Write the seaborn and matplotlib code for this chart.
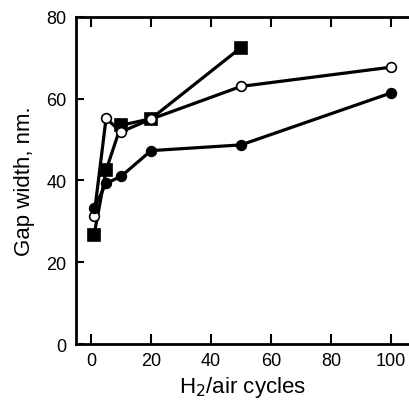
import matplotlib
matplotlib.use("Agg")
import matplotlib.pyplot as plt
import seaborn as sns
import pandas as pd

sns.set_style("ticks")
plt.rcParams['font.family'] = ['Liberation Sans', 'DejaVu Sans']

sq_x = [1, 5, 10, 20, 50]
sq_y = [26.7, 42.5, 53.5, 55.1, 72.5]
oc_x = [1, 5, 10, 20, 50, 100]
oc_y = [31.4, 55.2, 51.9, 55.0, 63.0, 67.7]
fc_x = [1, 5, 10, 20, 50, 100]
fc_y = [33.2, 39.3, 41.0, 47.3, 48.7, 61.4]

fig = plt.figure(figsize=(4.09, 4.06), dpi=100)
ax = fig.add_axes([0.186, 0.150, 0.814, 0.806])

series = [
    (sq_x, sq_y, dict(marker='s', markersize=8.5, markerfacecolor='black')),
    (oc_x, oc_y, dict(marker='o', markersize=7, markerfacecolor='white')),
    (fc_x, fc_y, dict(marker='o', markersize=7, markerfacecolor='black')),
]
for xs, ys, kw in series:
    df = pd.DataFrame({'x': xs, 'y': ys})
    sns.lineplot(data=df, x='x', y='y', ax=ax, color='black', linewidth=2.3,
                 markeredgecolor='black', markeredgewidth=1.2, sort=False, **kw)

ax.set_xlim(-5, 106)
ax.set_ylim(0, 80)
ax.set_xticks([0, 20, 40, 60, 80, 100])
ax.set_yticks([0, 20, 40, 60, 80])
for s in ['left', 'bottom', 'top']:
    ax.spines[s].set_linewidth(2)
    ax.spines[s].set_color('black')
ax.spines['right'].set_visible(False)
ax.tick_params(axis='x', which='both', direction='in', length=7, width=1.5,
               top=True, labelsize=13, colors='black', pad=6)
ax.tick_params(axis='y', direction='in', length=6, width=1.5, labelsize=13,
               colors='black', pad=7)
ax.set_xlabel('H$_2$/air cycles', fontsize=16, color='black', labelpad=3)
ax.set_ylabel('Gap width, nm.', fontsize=16, color='black', labelpad=8)
ax.set_facecolor('white')
fig.patch.set_facecolor('white')

fig.savefig('out.png', dpi=100)
